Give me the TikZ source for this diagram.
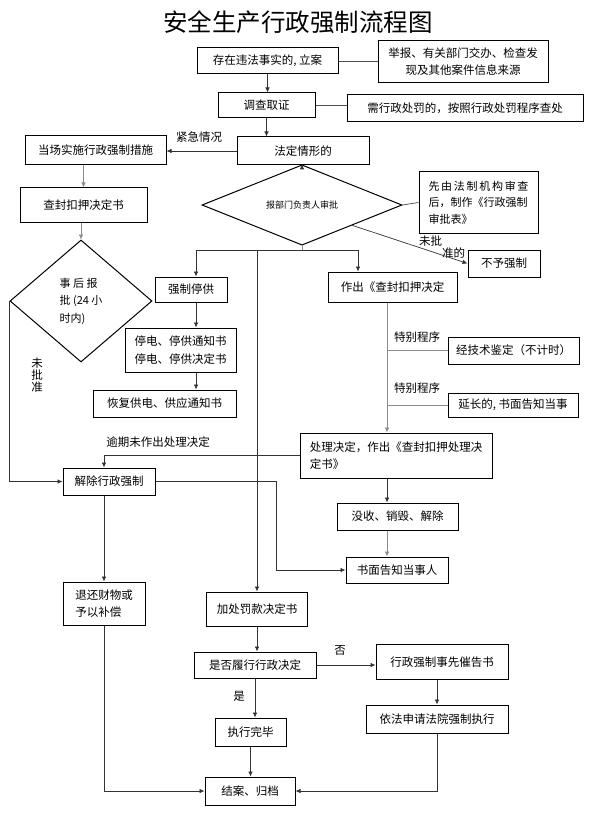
\documentclass[tikz,border=0pt]{standalone}
\usepackage{fontspec}
\setmainfont{Noto Sans CJK SC}
\usetikzlibrary{arrows.meta,shapes.geometric}
\begin{document}
\begin{tikzpicture}[x=1pt,y=-1pt,
  box/.style={draw=black, line width=1pt, inner sep=0pt, align=center, font=\fontsize{11.5}{15}\selectfont},
  lbl/.style={inner sep=0pt, font=\fontsize{11.5}{13}\selectfont},
  arr/.style={draw=black!80, line width=0.7pt, -{Latex[length=5pt,width=4.5pt]}},
  conn/.style={draw=black!70, line width=0.7pt},
  faint/.style={draw=black!45, line width=0.7pt},
  dia/.style={draw=black, line width=1pt, shape=diamond, inner sep=0pt, aspect=1}]
\useasboundingbox (0,0) rectangle (602,818);

\node[font=\fontsize{24.5}{28}\selectfont, inner sep=0pt] (title) at (298,22) {安全生产行政强制流程图};

\node[box, minimum width=141pt, minimum height=26pt] (A) at (267.5,61) {存在违法事实的, 立案};
\node[box, minimum width=170pt, minimum height=42pt] (B) at (463,62) {举报、有关部门交办、检查发\\[2pt]现及其他案件信息来源};
\node[box, minimum width=97pt, minimum height=25pt] (C) at (266.5,105.5) {调查取证};
\node[box, minimum width=236pt, minimum height=27pt] (D) at (465,108.5) {需行政处罚的，按照行政处罚程序查处};
\node[box, minimum width=132pt, minimum height=28pt] (E) at (303,151) {法定情形的};
\node[box, minimum width=141pt, minimum height=29pt] (F) at (95.5,150.5) {当场实施行政强制措施};
\node[box, minimum width=127pt, minimum height=35pt] (G) at (83.5,205.5) {查封扣押决定书};
\node[dia, minimum width=200pt, minimum height=62pt, font=\fontsize{9}{11}\selectfont] (H) at (302,205) {报部门负责人审批};
\node[box, minimum width=119pt, minimum height=61pt, align=left, font=\fontsize{11}{16.5}\selectfont] (I) at (478.5,202.5) {\makebox[100pt][s]{先\hfill 由\hfill 法\hfill 制\hfill 机\hfill 构\hfill 审\hfill 查}\\后，制作《行政强制\\审批表》};
\node[box, minimum width=72pt, minimum height=27pt] (J) at (504,263.5) {不予强制};
\node[dia, minimum width=142pt, minimum height=122pt, align=left, font=\fontsize{11}{17.5}\selectfont] (K) at (81,301) {事 后 报\\批 (24 小\\时内)};
\node[box, minimum width=72pt, minimum height=25pt] (L) at (191,289.5) {强制停供};
\node[box, minimum width=111pt, minimum height=44pt] (N) at (180.5,350) {停电、停供通知书\\[2.5pt]停电、停供决定书};
\node[box, minimum width=143pt, minimum height=27pt] (O) at (164.5,403.5) {恢复供电、供应通知书};
\node[box, minimum width=129pt, minimum height=30pt] (M) at (392.5,287) {作出《查封扣押决定};
\node[box, minimum width=131pt, minimum height=27pt] (P) at (513.5,350.5) {经技术鉴定（不计时）};
\node[box, minimum width=130pt, minimum height=24pt] (Q) at (513,405) {延长的, 书面告知当事};
\node[box, minimum width=192pt, minimum height=45pt, align=left] (R) at (396,455.5) {处理决定，作出《查封扣押处理决\\[2pt]定书》};
\node[box, minimum width=121pt, minimum height=27pt] (S) at (397.5,516.5) {没收、销毁、解除};
\node[box, minimum width=102pt, minimum height=26pt] (T) at (397,570) {书面告知当事人};
\node[box, minimum width=92pt, minimum height=27pt] (U) at (109,481.5) {解除行政强制};
\node[box, minimum width=82pt, minimum height=43pt, align=left] (V) at (104,603.5) {退还财物或\\[2pt]予以补偿};
\node[box, minimum width=101pt, minimum height=34pt] (W) at (257,609) {加处罚款决定书};
\node[box, minimum width=122pt, minimum height=26pt] (X) at (255,665) {是否履行行政决定};
\node[box, minimum width=71pt, minimum height=28pt] (Y) at (250.5,732) {执行完毕};
\node[box, minimum width=90pt, minimum height=28pt] (Z) at (250,791) {结案、归档};
\node[box, minimum width=132pt, minimum height=35pt] (AA) at (442,662) {行政强制事先催告书};
\node[box, minimum width=142pt, minimum height=28pt] (AB) at (437,719) {依法申请法院强制执行};

\node[lbl] (l1) at (199,137) {紧急情况};
\node[lbl, align=left, font=\fontsize{11.5}{12}\selectfont] (l2) at (442,247) {未批\\\hspace*{23pt}准的};
\node[lbl, align=center, font=\fontsize{11.5}{12}\selectfont] (l3) at (37,375) {未\\批\\准};
\node[lbl] (l4) at (417,337) {特别程序};
\node[lbl] (l5) at (417,388) {特别程序};
\node[lbl] (l6) at (158,442) {逾期未作出处理决定};
\node[lbl] (l7) at (340,650) {否};
\node[lbl] (l8) at (239,696) {是};

\coordinate (br) at (302,250);
\coordinate (brL) at (196,250);
\coordinate (brM) at (358,250);
\coordinate (brW) at (257,250);
\coordinate (cR) at (387,302);
\coordinate (tturn) at (276,570);

\draw[conn] (A.east) -- (A.east -| B.west);
\draw[conn] (C.east) -- (C.east -| D.west);
\draw[arr] (A.south) -- (A.south |- C.north);
\draw[arr] (C.south) -- (C.south |- E.north);
\draw[arr] (E.west) -- (E.west -| F.east);
\draw[arr, faint] (G.north |- F.south) -- (G.north);
\draw[arr, faint] (K.north |- G.south) -- (K.north);
\draw[arr] (H.north |- E.south) -- (H.north);
\draw[conn] (H.east) -- (I.west);
\draw[arr] (H.south east) -- (J.west);
\draw[faint] (H.south) -- (br);
\draw[arr] (br) -- (brL) -- (brL |- L.north);
\draw[arr] (br) -- (brM) -- (brM |- M.north);
\draw[arr] (brW) -- (brW |- W.north);
\draw[arr] (brL |- L.south) -- (brL |- N.north);
\draw[arr] (brL |- N.south) -- (brL |- O.north);
\draw[arr, faint] (cR |- M.south) -- (cR |- R.north);
\draw[faint] (cR |- P.west) -- (P.west);
\draw[faint] (cR |- Q.west) -- (Q.west);
\draw[arr] (cR |- R.south) -- (cR |- S.north);
\draw[arr, faint] (cR |- S.south) -- (cR |- T.north);
\draw[arr] (R.west) -| ([xshift=-5pt]U.north);
\draw[arr] (K.west) |- (U.west);
\draw[arr] (U.east) -| (tturn) -- (T.west);
\draw[arr] (V.north |- U.south) -- (V.north);
\draw[arr] (V.south) |- (Z.west);
\draw[arr] (W.south) -- (W.south |- X.north);
\draw[arr] (X.south) -- (X.south |- Y.north);
\draw[arr] (Y.south) -- (Y.south |- Z.north);
\draw[arr] (X.east) -- (X.east -| AA.west);
\draw[arr] (AB.north |- AA.south) -- (AB.north);
\draw[arr] (AB.south) |- (Z.east);
\end{tikzpicture}
\end{document}
